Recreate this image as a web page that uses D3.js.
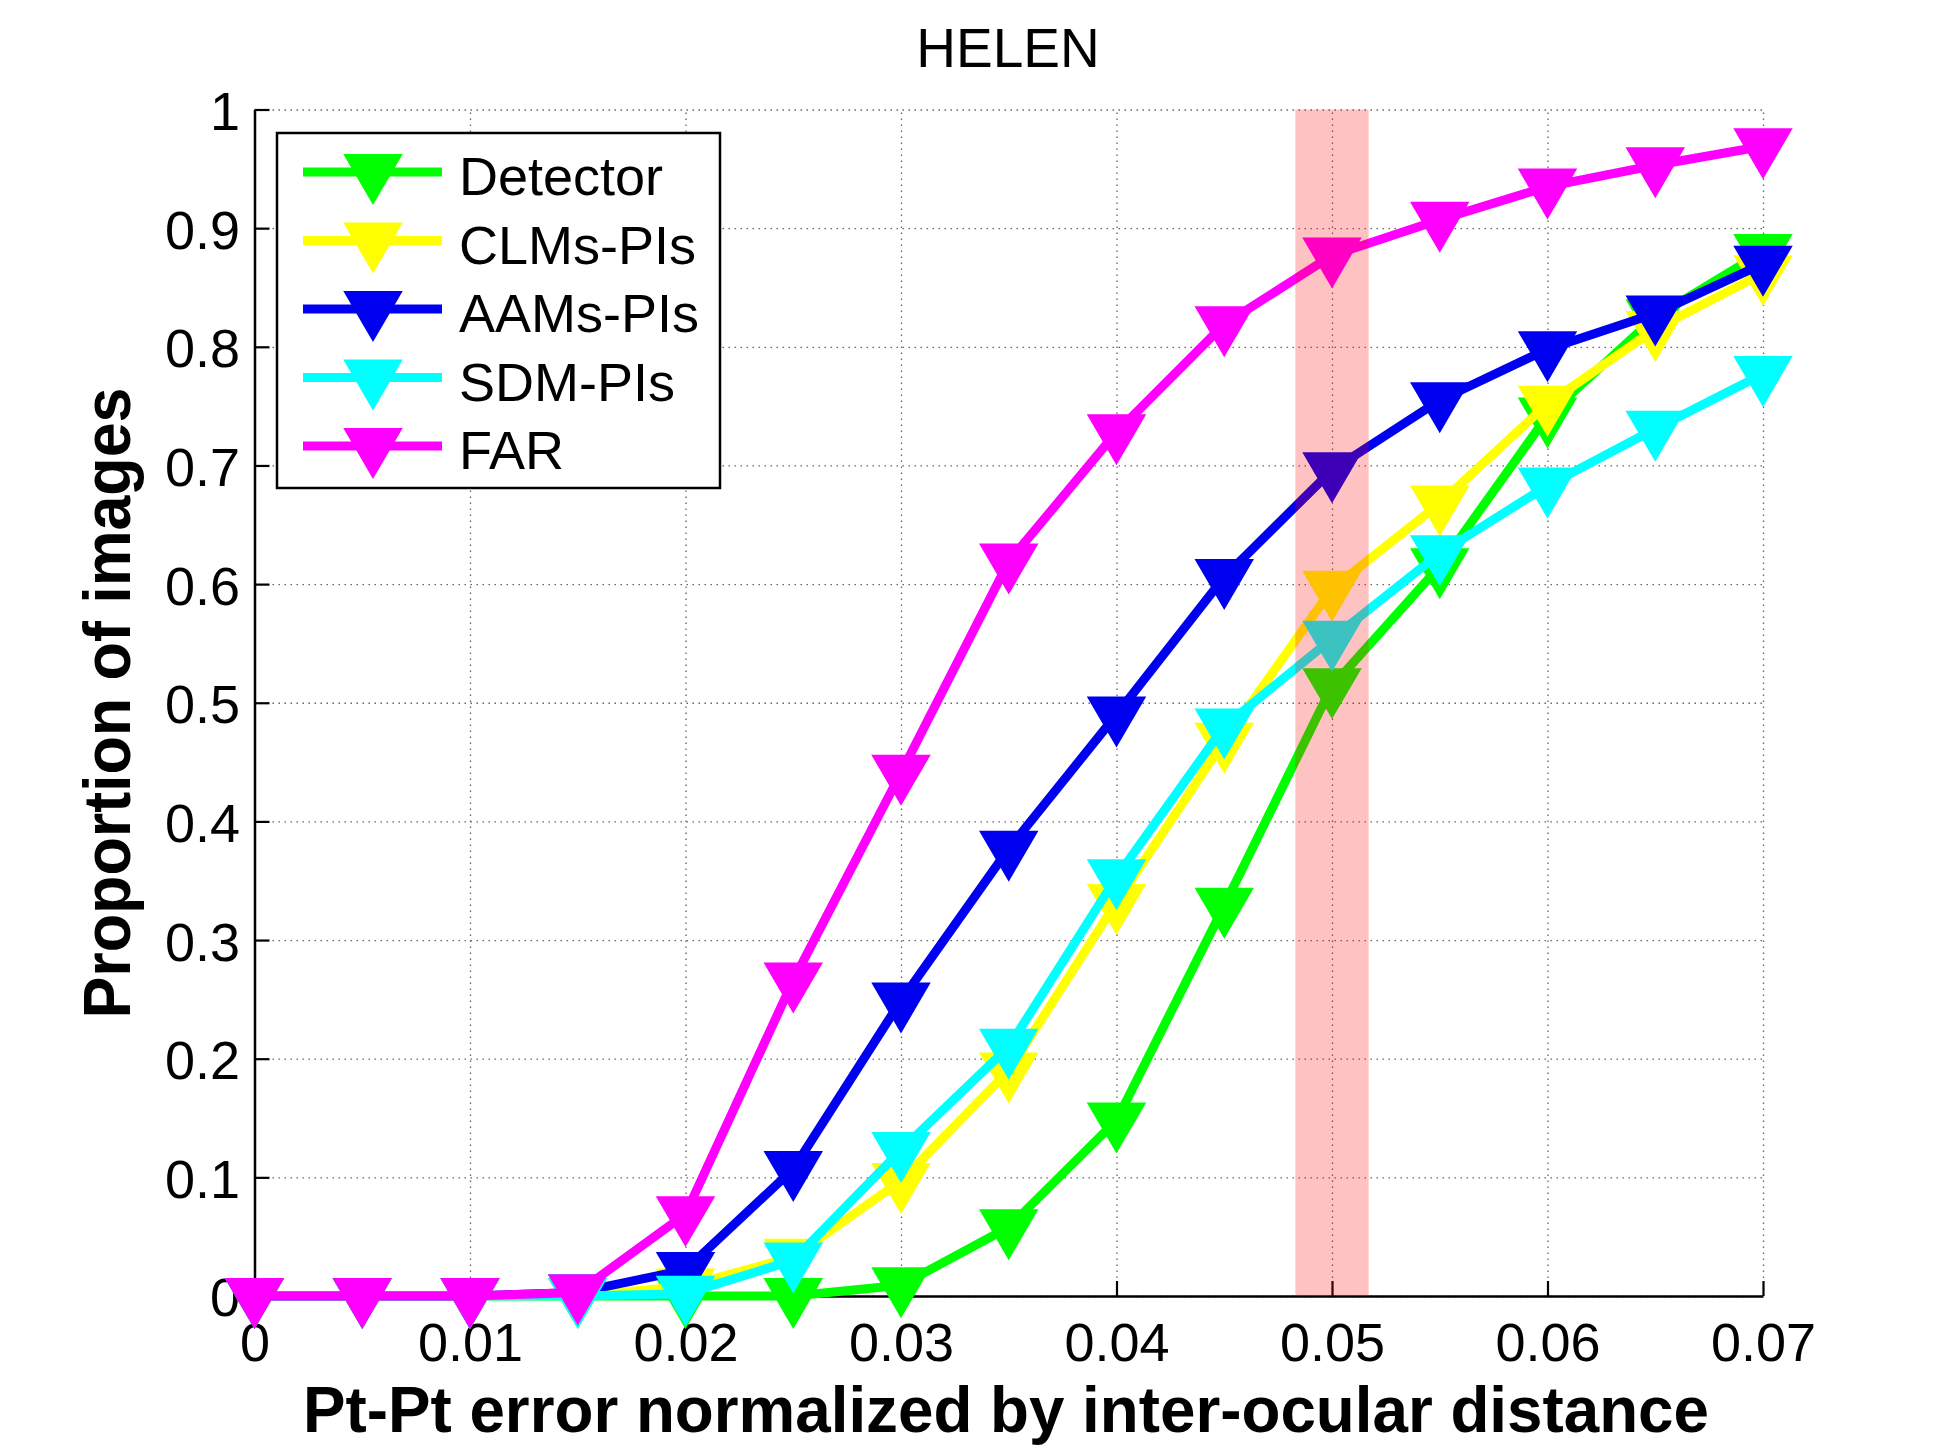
<!DOCTYPE html>
<html>
<head>
<meta charset="utf-8">
<script src="https://cdn.jsdelivr.net/npm/d3@7"></script>
<style>
  body { margin: 0; background: #fff; }
  svg { display: block; font-family: "Liberation Sans", Arial, sans-serif; }
</style>
</head>
<body>
<svg id="chart" width="1946" height="1456"></svg>
<script>
// values
const errorSteps = [0, 0.005, 0.01, 0.015, 0.02, 0.025, 0.03, 0.035, 0.04, 0.045, 0.05, 0.055, 0.06, 0.065, 0.07];
const detector = [0, 0, 0, 0, 0, 0, 0.009, 0.058, 0.148, 0.329, 0.514, 0.615, 0.742, 0.825, 0.88];
const clmsPis  = [0, 0, 0, 0, 0.008, 0.033, 0.097, 0.19, 0.332, 0.468, 0.596, 0.668, 0.752, 0.815, 0.862];
const aamsPis  = [0, 0, 0, 0.003, 0.022, 0.107, 0.249, 0.377, 0.49, 0.606, 0.696, 0.755, 0.798, 0.828, 0.87];
const sdmPis   = [0, 0, 0, 0, 0.002, 0.03, 0.123, 0.21, 0.353, 0.48, 0.554, 0.626, 0.683, 0.731, 0.777];
const far      = [0, 0, 0, 0.003, 0.069, 0.266, 0.441, 0.619, 0.728, 0.819, 0.877, 0.907, 0.935, 0.953, 0.969];
const seriesNames = ['Detector', 'CLMs-PIs', 'AAMs-PIs', 'SDM-PIs', 'FAR'];
const xTicks = [0, 0.01, 0.02, 0.03, 0.04, 0.05, 0.06, 0.07];
const yTicks = [0, 0.1, 0.2, 0.3, 0.4, 0.5, 0.6, 0.7, 0.8, 0.9, 1];
const highlightRange = [0.0483, 0.0517];

const seriesValues = [detector, clmsPis, aamsPis, sdmPis, far];
const colors = ['#00ff00', '#ffff00', '#0000f0', '#00ffff', '#ff00ff'];

const plotLeft = 254.5, plotRight = 1763, plotTop = 109.5, plotBottom = 1296;

const xScale = d3.scaleLinear().domain([0, 0.07]).range([plotLeft, plotRight]);
const yScale = d3.scaleLinear().domain([0, 1]).range([plotBottom, plotTop]);

const svg = d3.select('#chart');
svg.append('rect').attr('width', 1946).attr('height', 1456).attr('fill', '#fff');

// dotted grid
const gridX = svg.append('g')
    .attr('transform', `translate(0,${plotBottom})`)
    .call(d3.axisBottom(xScale).tickValues(xTicks).tickSize(-(plotBottom - plotTop)).tickFormat(''));
gridX.select('.domain').remove();
const gridY = svg.append('g')
    .attr('transform', `translate(${plotLeft},0)`)
    .call(d3.axisLeft(yScale).tickValues(yTicks).tickSize(-(plotRight - plotLeft)).tickFormat(''));
gridY.select('.domain').remove();
svg.selectAll('.tick line')
    .attr('stroke', '#666')
    .attr('stroke-width', 1.3)
    .attr('stroke-dasharray', '1.5,4.5');

// axes with inward ticks
const fmtX = (d) => d === 0 ? '0' : d3.format('.2f')(d);
const fmtY = (d) => d3.format('~g')(d);

const xAxisGroup = svg.append('g')
    .attr('transform', `translate(0,${plotBottom})`)
    .call(d3.axisBottom(xScale).tickValues(xTicks).tickSizeInner(-15).tickSizeOuter(0)
        .tickPadding(27).tickFormat(fmtX));
const yAxisGroup = svg.append('g')
    .attr('transform', `translate(${plotLeft},0)`)
    .call(d3.axisLeft(yScale).tickValues(yTicks).tickSizeInner(-15).tickSizeOuter(0)
        .tickPadding(14.5).tickFormat(fmtY));

[xAxisGroup, yAxisGroup].forEach((g) => {
    g.select('.domain').attr('stroke', '#000').attr('stroke-width', 2.5);
    g.selectAll('.tick line').attr('stroke', '#000').attr('stroke-width', 2.2).attr('stroke-dasharray', null);
    g.selectAll('text')
        .attr('fill', '#000')
        .attr('font-family', '"Liberation Sans", Arial, sans-serif')
        .attr('font-size', 54);
});
yAxisGroup.selectAll('text').attr('dy', '0.37em');

// curves
const triangle = (x, y) => `M${x - 28},${y - 17}L${x + 28},${y - 17}L${x},${y + 31}Z`;
const line = d3.line()
    .x((d, i) => xScale(errorSteps[i]))
    .y((d) => yScale(d));

seriesValues.forEach((values, k) => {
    const g = svg.append('g');
    g.append('path')
        .attr('d', line(values))
        .attr('fill', 'none')
        .attr('stroke', colors[k])
        .attr('stroke-width', 9)
        .attr('stroke-linejoin', 'round');
    g.selectAll('path.marker')
        .data(values)
        .join('path')
        .attr('class', 'marker')
        .attr('d', (d, i) => triangle(xScale(errorSteps[i]), yScale(d)))
        .attr('fill', colors[k])
        .attr('stroke', colors[k])
        .attr('stroke-width', 2)
        .attr('stroke-linejoin', 'miter');
});

// translucent highlight band over the curves
svg.append('rect')
    .attr('x', xScale(highlightRange[0]))
    .attr('y', plotTop)
    .attr('width', xScale(highlightRange[1]) - xScale(highlightRange[0]))
    .attr('height', plotBottom - plotTop)
    .attr('fill', '#ff0000')
    .attr('opacity', 0.24);

// legend
const legend = svg.append('g');
legend.append('rect')
    .attr('x', 277).attr('y', 133)
    .attr('width', 443).attr('height', 355)
    .attr('fill', '#fff')
    .attr('stroke', '#000')
    .attr('stroke-width', 2.5);
seriesNames.forEach((name, k) => {
    const ly = 172 + k * 68.5;
    legend.append('line')
        .attr('x1', 303).attr('x2', 442)
        .attr('y1', ly).attr('y2', ly)
        .attr('stroke', colors[k])
        .attr('stroke-width', 9);
    legend.append('path')
        .attr('d', triangle(373, ly))
        .attr('fill', colors[k])
        .attr('stroke', colors[k])
        .attr('stroke-width', 2);
    legend.append('text')
        .attr('x', 459).attr('y', ly + 23)
        .attr('font-size', 54)
        .attr('fill', '#000')
        .text(name);
});

// title and axis labels
svg.append('text')
    .attr('x', 1008).attr('y', 67)
    .attr('text-anchor', 'middle')
    .attr('font-size', 55)
    .text('HELEN');

svg.append('text')
    .attr('x', 1006).attr('y', 1432)
    .attr('text-anchor', 'middle')
    .attr('font-size', 65)
    .attr('font-weight', 'bold')
    .attr('textLength', 1406)
    .attr('lengthAdjust', 'spacingAndGlyphs')
    .text('Pt-Pt error normalized by inter-ocular distance');

svg.append('text')
    .attr('transform', 'translate(130,703) rotate(-90)')
    .attr('text-anchor', 'middle')
    .attr('font-size', 66)
    .attr('font-weight', 'bold')
    .attr('textLength', 631)
    .attr('lengthAdjust', 'spacingAndGlyphs')
    .text('Proportion of images');
</script>
</body>
</html>
